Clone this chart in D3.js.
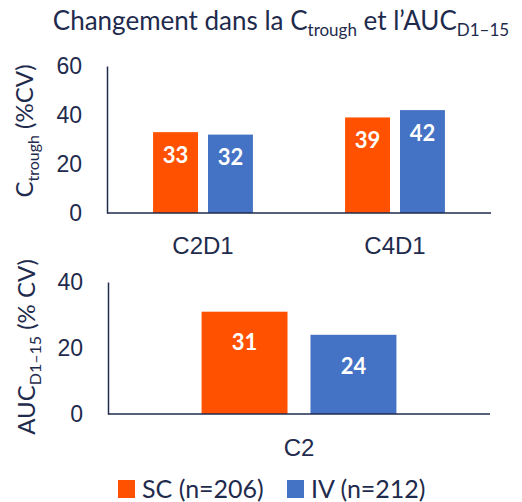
<!DOCTYPE html>
<html>
<head>
<meta charset="utf-8">
<script src="https://cdn.jsdelivr.net/npm/d3@7"></script>
<style>
	body { margin: 0; background: #fff; }
	svg { display: block; font-family: Lato, 'Noto Sans', sans-serif; }
	.axis text { fill: #1f2b4d; font-size: 23px; }
	.axis .domain { stroke: #1f2b4d; stroke-width: 1.5; }
</style>
</head>
<body>
<div id="chart"></div>
<script>
const seriesNames = ['SC (n=206)', 'IV (n=212)'];
const seriesColors = ['#ff5100', '#4472c4'];

const troughCats = ['C2D1', 'C4D1'];
const troughSC = [33, 39];
const troughIV = [32, 42];
const troughTicks = [0, 20, 40, 60];

const aucCats = ['C2'];
const aucSC = [31];
const aucIV = [24];
const aucTicks = [0, 20, 40];

const ink = '#1f2b4d';

const svg = d3.select('#chart').append('svg').attr('width', 522).attr('height', 502);

// title
const title = svg.append('text').attr('x', 281).attr('y', 30).attr('text-anchor', 'middle')
	.attr('fill', ink).style('font-size', '26px');
title.append('tspan').text('Changement dans la C');
title.append('tspan').attr('dy', 6).style('font-size', '17px').text('trough');
title.append('tspan').attr('dy', -6).text(' et l’AUC');
title.append('tspan').attr('dy', 6).style('font-size', '17px').text('D1–15');

function drawPanel(cfg) {
	const data = cfg.cats.map((c, i) => ({ cat: c, values: [cfg.sc[i], cfg.iv[i]] }));

	const x0 = d3.scaleBand().domain(cfg.cats).range(cfg.xRange).paddingInner(cfg.pad).paddingOuter(cfg.pad / 2);
	const x1 = d3.scaleBand().domain([0, 1]).range([0, x0.bandwidth()]).paddingInner(cfg.subPad);
	const y = d3.scaleLinear().domain([0, d3.max(cfg.ticks)]).range(cfg.yRange);

	const g = svg.append('g');

	const groups = g.selectAll('.grp').data(data).enter().append('g')
		.attr('transform', (d) => `translate(${x0(d.cat)},0)`);

	groups.selectAll('rect').data((d) => d.values).enter().append('rect')
		.attr('x', (d, i) => x1(i))
		.attr('width', x1.bandwidth())
		.attr('y', (d) => y(d))
		.attr('height', (d) => y(0) - y(d))
		.attr('fill', (d, i) => seriesColors[i]);

	groups.selectAll('.lbl').data((d) => d.values).enter().append('text')
		.attr('x', (d, i) => x1(i) + x1.bandwidth() / 2)
		.attr('y', (d) => y(d) + cfg.labelOffset)
		.attr('dy', '0.35em')
		.attr('text-anchor', 'middle')
		.attr('fill', '#fff')
		.style('font-size', '22px')
		.style('font-weight', 'bold')
		.text((d) => d);

	g.append('g').attr('class', 'axis')
		.attr('transform', `translate(${cfg.xRange[0]},0)`)
		.call(d3.axisLeft(y).tickValues(cfg.ticks).tickSize(0).tickPadding(25));

	g.append('g').attr('class', 'axis')
		.attr('transform', `translate(0,${y(0)})`)
		.call(d3.axisBottom(x0).tickSize(0).tickPadding(cfg.catPadding))
		.call((a) => a.selectAll('.tick text').style('font-size', '24px'))
		.select('.domain').attr('d', `M${cfg.xRange[0]},0H${cfg.xRange[1]}`);

	// rotated y title with subscript
	const t = g.append('text')
		.attr('transform', `translate(${cfg.titleX},${cfg.titleY}) rotate(-90)`)
		.attr('text-anchor', 'middle').attr('fill', ink).style('font-size', '24px');
	t.append('tspan').text(cfg.yTitle[0]);
	t.append('tspan').attr('dy', 6).style('font-size', '16px').text(cfg.yTitle[1]);
	t.append('tspan').attr('dy', -6).text(cfg.yTitle[2]);
}

drawPanel({
	cats: troughCats, sc: troughSC, iv: troughIV, ticks: troughTicks,
	xRange: [107, 491], yRange: [213, 66], pad: 0.48, subPad: 0.182,
	labelOffset: 23, catPadding: 24,
	titleX: 33, titleY: 131, yTitle: ['C', 'trough', ' (%CV)'],
});

drawPanel({
	cats: aucCats, sc: aucSC, iv: aucIV, ticks: aucTicks,
	xRange: [108, 490], yRange: [414, 282], pad: 0.49, subPad: 0.211,
	labelOffset: 31, catPadding: 25,
	titleX: 35, titleY: 347, yTitle: ['AUC', 'D1–15', ' (% CV)'],
});

// legend
const legend = svg.append('g').selectAll('g').data(seriesNames).enter().append('g')
	.attr('transform', (d, i) => `translate(${i === 0 ? 118 : 287},480)`);
legend.append('rect').attr('width', 17).attr('height', 18).attr('fill', (d, i) => seriesColors[i]);
legend.append('text').attr('x', 24).attr('y', 9).attr('dy', '0.35em')
	.attr('fill', ink).style('font-size', '25px').text((d) => d);
</script>
</body>
</html>
